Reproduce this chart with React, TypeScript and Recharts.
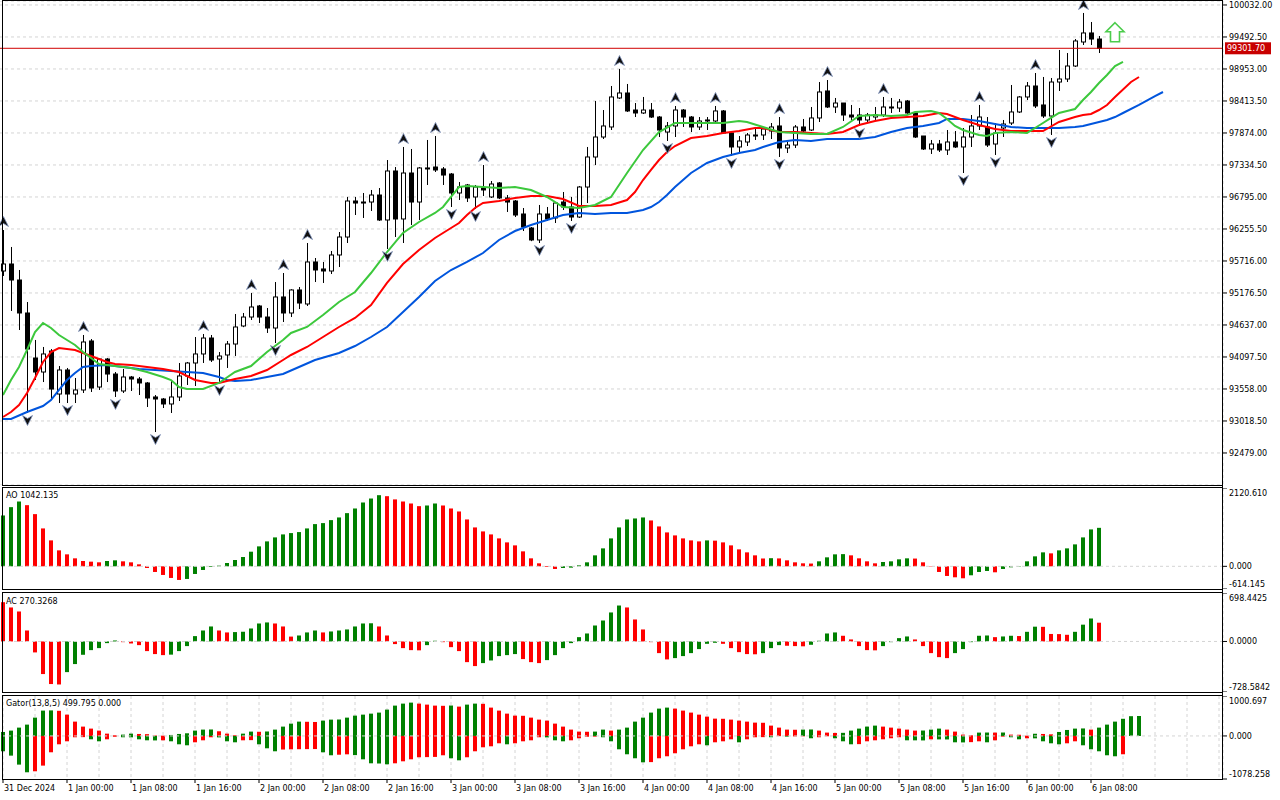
import React from 'react'
import { ComposedChart, Bar, Line, XAxis, YAxis, CartesianGrid, ReferenceLine } from 'recharts'

// H1 bars, slot 0 = 31 Dec 16:00, one slot per hour
const OPEN = [
  95547, 95665, 95395, 94839, 94080, 93844, 94198, 93473, 93878, 93473,
  93541, 94367, 93591, 94063, 93810, 93524, 93760, 93726, 93659, 93423,
  93389, 93305, 93423, 93777, 93996, 94148, 94417, 94063, 94131, 94316,
  94620, 94771, 94957, 94771, 94586, 95109, 94839, 95227, 94991, 95699,
  95581, 95547, 95817, 96120, 96727, 96710, 96710, 96828, 96407, 97233,
  96424, 97199, 96710, 97284, 97300, 97267, 97182, 96862, 96997, 96795,
  96946, 96795, 97031, 96778, 96727, 96508, 96272, 96070, 96508, 96441,
  96710, 96626, 96457, 96963, 97469, 97806, 97975, 98464, 98548, 98261,
  98211, 98261, 98143, 97890, 97992, 98261, 98143, 97975, 98093, 98076,
  98245, 97874, 97638, 97722, 97840, 97840, 97907, 97992, 97621, 97671,
  97975, 97924, 98127, 98582, 98312, 98379, 98177, 98177, 98093, 98143,
  98177, 98295, 98295, 98413, 98211, 97823, 97604, 97688, 97587, 97722,
  97638, 97806, 97992, 97975, 97688, 97958, 98042, 98228, 98481, 98666,
  98346, 98160, 98733, 98784, 99003, 99408, 99560, 99458,
]
const HIGH = [
  96238, 95952, 95564, 95024, 94384, 94266, 94232, 93945, 93912, 93743,
  94468, 94400, 94080, 94080, 93844, 93895, 93777, 93760, 93675, 93456,
  93406, 93692, 93996, 94013, 94434, 94485, 94468, 94181, 94367, 94822,
  94839, 95176, 94974, 94923, 95361, 95513, 95240, 95277, 96019, 95766,
  95699, 95884, 96204, 96795, 96795, 96862, 96913, 96946, 97418, 97300,
  97638, 97604, 97300, 97756, 97823, 97300, 97199, 97047, 97014, 96997,
  97334, 97064, 97047, 96828, 96744, 96609, 96289, 96660, 96626, 96710,
  96879, 96795, 96980, 97638, 98413, 98261, 98666, 98953, 98700, 98379,
  98481, 98379, 98160, 98059, 98329, 98278, 98160, 98143, 98143, 98329,
  98261, 97890, 97823, 97874, 97975, 97975, 98042, 98143, 97722, 98008,
  98110, 98312, 98733, 98767, 98464, 98379, 98346, 98295, 98211, 98312,
  98481, 98464, 98447, 98430, 98211, 97823, 97756, 97756, 97924, 97907,
  97958, 98177, 98346, 98143, 98042, 98093, 98683, 98497, 98733, 98885,
  98818, 98801, 99273, 99222, 99458, 99897, 99745, 99509,
]
const LOW = [
  95463, 94873, 94552, 93153, 93709, 93675, 93389, 93321, 93321, 93321,
  93490, 93507, 93541, 93675, 93423, 93490, 93524, 93456, 93254, 92832,
  93237, 93153, 93355, 93625, 93608, 93996, 94013, 93659, 93912, 94114,
  94600, 94721, 94670, 94502, 94333, 94687, 94771, 94906, 94957, 95361,
  95345, 95496, 95614, 96019, 96491, 96441, 96559, 96390, 95918, 96120,
  96019, 96322, 96407, 96997, 97216, 96997, 96626, 96744, 96710, 96592,
  96811, 96778, 96761, 96542, 96457, 96221, 96050, 96019, 96390, 96356,
  96575, 96390, 96441, 96693, 97334, 97772, 97924, 98447, 98228, 98143,
  98194, 98127, 97806, 97739, 97806, 97975, 97890, 97924, 97924, 98042,
  97857, 97486, 97553, 97654, 97756, 97756, 97772, 97469, 97536, 97621,
  97890, 97907, 98059, 98295, 98211, 98076, 98093, 97992, 98059, 98093,
  98143, 98211, 98228, 98194, 97790, 97587, 97520, 97553, 97503, 97621,
  97199, 97638, 97924, 97638, 97503, 97806, 98008, 98211, 98430, 98295,
  98127, 97840, 98582, 98733, 98986, 99357, 99357, 99222,
]
const CLOSE = [
  95665, 95395, 94839, 94232, 93844, 94148, 93557, 93878, 93473, 93541,
  94350, 93574, 94063, 93810, 93524, 93760, 93726, 93659, 93406, 93389,
  93305, 93423, 93777, 93996, 94148, 94417, 94046, 94114, 94316, 94603,
  94771, 94940, 94771, 94586, 95109, 94839, 95227, 95007, 95699, 95564,
  95547, 95817, 96120, 96727, 96693, 96693, 96828, 96407, 97233, 96424,
  97199, 96710, 97284, 97267, 97250, 97165, 96862, 96963, 96778, 96963,
  96913, 97014, 96778, 96710, 96491, 96289, 96070, 96508, 96424, 96693,
  96626, 96457, 96963, 97469, 97806, 97992, 98481, 98548, 98245, 98211,
  98261, 98143, 97924, 97992, 98261, 98143, 97975, 98076, 98076, 98245,
  97874, 97638, 97739, 97840, 97823, 97941, 97975, 97621, 97671, 97975,
  97907, 98127, 98565, 98312, 98379, 98177, 98143, 98093, 98177, 98177,
  98312, 98312, 98396, 98211, 97806, 97604, 97688, 97587, 97722, 97638,
  97806, 97992, 98143, 97671, 97874, 98025, 98228, 98481, 98666, 98329,
  98160, 98733, 98784, 99003, 99425, 99560, 99458, 99301.7,
]

// Alligator lines, [slot, price], already shifted forward
const JAW: [number, number][] = [
  [0, 93052], [1, 93052], [3, 93170], [5, 93271], [6, 93372], [7, 93541], [8, 93709], [9, 93827],
  [10, 93928], [11, 93945], [13, 93962], [15, 93928], [17, 93895], [19, 93878], [21, 93861],
  [23, 93844], [25, 93827], [27, 93760], [28, 93709], [29, 93692], [31, 93709], [33, 93760],
  [35, 93810], [37, 93928], [39, 94046], [42, 94164], [44, 94282], [46, 94434], [48, 94603],
  [50, 94856], [52, 95109], [54, 95378], [56, 95564], [58, 95699], [60, 95850], [62, 96070],
  [64, 96221], [66, 96322], [68, 96407], [70, 96491], [72, 96525], [74, 96508], [76, 96525],
  [78, 96525], [80, 96575], [81, 96626], [82, 96710], [83, 96828], [84, 96963], [86, 97199],
  [88, 97368], [90, 97469], [92, 97536], [94, 97587], [95, 97638], [97, 97722], [99, 97756],
  [101, 97739], [103, 97772], [105, 97772], [107, 97772], [109, 97806], [111, 97890],
  [113, 97958], [115, 97992], [117, 98042], [118, 98110], [120, 98110], [122, 98076],
  [124, 98025], [126, 97975], [128, 97958], [130, 97958], [132, 97958], [134, 97975],
  [135, 97992], [136, 98025], [137, 98059], [138, 98093], [139, 98143], [140, 98211],
  [142, 98346], [144, 98497], [145, 98565],
]
const TEETH: [number, number][] = [
  [0, 93085], [1, 93170], [2, 93288], [3, 93490], [4, 93743], [5, 94013], [6, 94181], [7, 94249],
  [9, 94215], [11, 94114], [13, 94013], [14, 93979], [16, 93962], [18, 93928], [20, 93895],
  [22, 93844], [24, 93709], [26, 93659], [27, 93659], [29, 93726], [31, 93777], [33, 93878],
  [35, 94046], [36, 94131], [38, 94266], [40, 94434], [42, 94603], [44, 94755], [46, 94974],
  [48, 95345], [50, 95665], [52, 95901], [54, 96103], [56, 96272], [57, 96356], [58, 96491],
  [59, 96609], [60, 96693], [62, 96727], [64, 96778], [66, 96811], [68, 96811], [70, 96761],
  [72, 96643], [74, 96643], [76, 96660], [78, 96744], [79, 96879], [80, 97081], [81, 97250],
  [82, 97418], [83, 97553], [84, 97654], [86, 97789], [88, 97823], [90, 97874], [92, 97907],
  [94, 97958], [95, 97958], [97, 97890], [99, 97890], [101, 97874], [103, 97857], [105, 97890],
  [107, 98008], [109, 98076], [111, 98127], [113, 98143], [115, 98160], [117, 98211],
  [118, 98194], [120, 98093], [122, 98008], [124, 97941], [126, 97907], [128, 97907],
  [130, 97907], [132, 98059], [134, 98143], [135, 98177], [136, 98194], [137, 98261],
  [138, 98346], [139, 98481], [141, 98733], [142, 98818],
]
const LIPS: [number, number][] = [
  [0, 93456], [1, 93709], [2, 93928], [3, 94215], [4, 94518], [5, 94670], [6, 94586], [7, 94468],
  [8, 94384], [9, 94299], [10, 94181], [11, 94080], [12, 93979], [14, 93945], [16, 93912],
  [18, 93844], [20, 93760], [21, 93709], [22, 93591], [23, 93557], [25, 93557], [27, 93659],
  [29, 93844], [31, 93945], [33, 94181], [35, 94384], [36, 94502], [38, 94603], [40, 94805],
  [42, 95024], [44, 95193], [46, 95513], [48, 95867], [50, 96188], [52, 96373], [54, 96525],
  [55, 96626], [56, 96795], [57, 96963], [58, 96980], [60, 96963], [62, 96946], [64, 96963],
  [66, 96913], [68, 96795], [70, 96626], [72, 96609], [74, 96660], [76, 96795], [78, 97199],
  [80, 97587], [82, 97890], [84, 98042], [86, 98042], [88, 98042], [90, 98042], [92, 98076],
  [93, 98059], [95, 97975], [97, 97890], [99, 97874], [101, 97857], [103, 97857], [105, 97975],
  [107, 98160], [109, 98177], [111, 98160], [113, 98177], [114, 98228], [116, 98245],
  [117, 98211], [118, 98110], [119, 97992], [120, 97924], [122, 97840], [123, 97823],
  [124, 97874], [126, 97890], [128, 97874], [129, 97958], [130, 98042], [131, 98127],
  [132, 98211], [133, 98245], [134, 98278], [135, 98430], [136, 98565], [137, 98717],
  [138, 98851], [139, 99003], [140, 99071],
]

const FRACTAL_UP = [0, 10, 25, 31, 35, 38, 50, 54, 60, 77, 84, 89, 97, 103, 110, 122, 129, 135]
const FRACTAL_DOWN = [3, 8, 14, 19, 27, 34, 48, 56, 59, 67, 71, 83, 91, 97, 107, 120, 124, 131]

const AO = [
  1377, 1602, 1755, 1656, 1413, 1026, 702, 432, 324, 216,
  144, 126, 108, 144, 162, 135, 108, 54, -45, -153,
  -234, -315, -369, -342, -207, -99, -18, 18, 90, 171,
  252, 396, 540, 675, 783, 864, 900, 927, 1026, 1143,
  1170, 1251, 1323, 1440, 1566, 1728, 1836, 1926, 1899, 1812,
  1755, 1701, 1629, 1647, 1701, 1647, 1566, 1485, 1269, 1053,
  945, 864, 756, 648, 567, 405, 216, 81, -18, -72,
  -45, -36, 27, 108, 297, 486, 756, 1053, 1269, 1296,
  1323, 1242, 1080, 918, 837, 756, 702, 675, 702, 695,
  648, 567, 459, 378, 297, 212, 220, 214, 162, 108,
  81, 75, 135, 243, 324, 330, 297, 216, 135, 81,
  117, 135, 189, 216, 210, 108, -9, -153, -261, -297,
  -324, -243, -153, -126, -162, -72, -27, -9, 135, 270,
  378, 351, 432, 486, 594, 783, 999, 1042.135,
]
const AC = [
  566, 490, 432, 158, -158, -470, -614, -620, -442, -326,
  -192, -125, -96, -24, 14, -10, -29, -53, -139, -182,
  -197, -190, -139, -67, 77, 158, 216, 158, 130, 135,
  140, 187, 259, 274, 259, 216, 70, 86, 130, 158,
  130, 144, 158, 173, 216, 259, 262, 216, 86, -38,
  -96, -125, -128, -53, 10, -10, -82, -139, -298, -355,
  -312, -274, -211, -197, -182, -254, -298, -312, -269, -197,
  -96, -24, 62, 115, 230, 302, 418, 518, 490, 317,
  173, -10, -168, -259, -240, -211, -168, -110, -34, -19,
  -34, -96, -154, -182, -185, -168, -96, -53, -62, -67,
  -70, -48, 10, 115, 130, 82, 29, -67, -125, -128,
  -67, -10, 48, 72, 29, -67, -168, -226, -240, -168,
  -110, -10, 82, 86, 62, 72, 82, 78, 139, 213,
  211, 108, 106, 96, 139, 242, 331, 270.3268,
]
const GATOR_UP = [
  100, 134, 209, 284, 459, 635, 640, 630, 534, 359,
  234, 184, 134, 58, 17, 33, 58, 50, 45, 12,
  8, 25, 50, 67, 134, 159, 162, 117, 58, 17,
  58, 109, 105, 112, 159, 234, 309, 359, 355, 350,
  384, 409, 412, 459, 509, 534, 559, 585, 660, 760,
  810, 835, 810, 785, 760, 755, 762, 735, 785, 810,
  805, 710, 635, 559, 509, 505, 459, 409, 384, 309,
  234, 159, 109, 105, 109, 159, 134, 159, 209, 359,
  459, 585, 685, 710, 685, 635, 585, 534, 484, 434,
  430, 409, 384, 359, 334, 330, 259, 209, 159, 155,
  159, 162, 134, 84, 75, 78, 134, 184, 234, 259,
  234, 209, 184, 159, 134, 136, 159, 184, 159, 109,
  33, 17, 84, 86, 84, 86, 33, 30, 8, 55,
  50, 40, 100, 150, 184, 188, 159, 209, 284, 359,
  430, 495, 499.795,
]
const GATOR_DOWN = [
  -384, -493, -718, -910, -885, -743, -409, -209, -134, -33,
  -30, -84, -134, -84, -20, -33, -35, -84, -109, -112,
  -109, -134, -209, -234, -159, -109, -33, -36, -134, -159,
  -109, -105, -209, -309, -384, -340, -335, -332, -330, -328,
  -409, -484, -470, -460, -480, -585, -685, -690, -710, -685,
  -635, -585, -534, -530, -525, -484, -559, -610, -534, -384,
  -284, -259, -184, -209, -184, -134, -109, -33, -36, -109,
  -134, -109, -58, -20, -17, -33, -134, -334, -459, -559,
  -660, -655, -559, -509, -434, -334, -259, -209, -234, -159,
  -134, -84, -159, -84, -33, -30, -33, -5, -17, -12,
  -10, -58, -33, -8, -58, -134, -209, -205, -134, -109,
  -84, -58, -33, -109, -110, -112, -84, -86, -88, -159,
  -162, -155, -134, -159, -109, -17, -33, -84, -58, -60,
  -134, -184, -209, -184, -134, -234, -334, -384, -484, -509,
  -459,
]

const PRICE_TICKS = [
  92479, 93018.5, 93558, 94097.5, 94637, 95176.5, 95716, 96255.5,
  96795, 97334.5, 97874, 98413.5, 98953, 99492.5, 100032,
]
const TIME_LABELS = [
  '31 Dec 2024', '1 Jan 00:00', '1 Jan 08:00', '1 Jan 16:00', '2 Jan 00:00', '2 Jan 08:00',
  '2 Jan 16:00', '3 Jan 00:00', '3 Jan 08:00', '3 Jan 16:00', '4 Jan 00:00', '4 Jan 08:00',
  '4 Jan 16:00', '5 Jan 00:00', '5 Jan 08:00', '5 Jan 16:00', '6 Jan 00:00', '6 Jan 08:00',
]
const BID = 99301.7
const SIGNAL = { k: 139, price: 99733 }

const PRICE_DOMAIN: [number, number] = [91939, 100099]
const AO_RANGE: [number, number] = [-614.145, 2120.61]
const AC_RANGE: [number, number] = [-728.5842, 698.4425]
const GATOR_RANGE: [number, number] = [-1078.258, 1000.697]

const SLOTS = 153
const GRID_TICKS = Array.from({ length: 39 }, (_, i) => i * 4)

const UP = '#008000'
const DOWN = '#ff0000'
const GRID = '#d4d4d4'
const FONT = 'DejaVu Sans'
const W = 1284
const AXIS_W = 60
const ZERO = { top: 0, right: 0, bottom: 0, left: 0 }

function trend(values: number[], firstUp: boolean, byMagnitude = false) {
  const out: string[] = []
  let up = firstUp
  values.forEach((v, i) => {
    if (i > 0) {
      const a = byMagnitude ? Math.abs(v) : v
      const b = byMagnitude ? Math.abs(values[i - 1]) : values[i - 1]
      if (a > b) up = true
      else if (a < b) up = false
    }
    out.push(up ? UP : DOWN)
  })
  return out
}

const AO_COLORS = trend(AO, true)
const AC_COLORS = trend(AC, false)
const GU_COLORS = trend(GATOR_UP, true, true)
const GD_COLORS = trend(GATOR_DOWN, true, true)

const jawMap = new Map(JAW)
const teethMap = new Map(TEETH)
const lipsMap = new Map(LIPS)

const rows = Array.from({ length: SLOTS }, (_, k) => {
  const has = k < OPEN.length
  return {
    k,
    open: has ? OPEN[k] : null,
    high: has ? HIGH[k] : null,
    low: has ? LOW[k] : null,
    close: has ? CLOSE[k] : null,
    candle: has ? [LOW[k], HIGH[k]] : null,
    jaw: jawMap.get(k) ?? null,
    teeth: teethMap.get(k) ?? null,
    lips: lipsMap.get(k) ?? null,
    fu: FRACTAL_UP.includes(k) ? HIGH[k] : null,
    fd: FRACTAL_DOWN.includes(k) ? LOW[k] : null,
    sig: k === SIGNAL.k ? SIGNAL.price : null,
    ao: k < AO.length ? AO[k] : null,
    ac: k < AC.length ? AC[k] : null,
    gu: k < GATOR_UP.length ? GATOR_UP[k] : 0,
    gd: k < GATOR_DOWN.length ? GATOR_DOWN[k] : 0,
  }
})

function Candle(p: any) {
  const d = p.payload
  if (!d || d.open == null || !p.height) return <g />
  const { open, close, high, low } = d
  const py = (v: number) => p.y + ((high - v) / (high - low)) * p.height
  const cx = p.x + p.width / 2
  const top = py(Math.max(open, close))
  const bot = py(Math.min(open, close))
  return (
    <g>
      <line x1={cx} x2={cx} y1={p.y} y2={p.y + p.height} stroke="#000" strokeWidth={1} />
      <rect x={cx - 2} y={top} width={4} height={Math.max(bot - top, 0)} fill={close < open ? '#000' : '#fff'} stroke="#000" strokeWidth={1} />
    </g>
  )
}

const histShape = (colors: string[]) => (p: any) => {
  const c = colors[p.payload?.k]
  if (!c || !p.height) return <g />
  const top = Math.min(p.y, p.y + p.height)
  return <rect x={Math.round(p.x)} y={top} width={p.width} height={Math.abs(p.height)} fill={c} />
}

const fractalDot = (dir: 'up' | 'down') => (p: any) => {
  if (p.value == null || p.cx == null || p.cy == null) return <g key={p.index} />
  const y0 = dir === 'up' ? p.cy - 8 : p.cy + 7
  const d = dir === 'up' ? 'M0,-5.5 L5,4.5 L0,1.5 L-5,4.5 Z' : 'M0,5.5 L5,-4.5 L0,-1.5 L-5,-4.5 Z'
  return (
    <path key={p.index} d={d} transform={`translate(${p.cx + 0.5},${y0})`} fill="#111" stroke="#8194bc" strokeWidth={0.8} />
  )
}

function SignalArrow(p: any) {
  if (p.value == null || p.cx == null || p.cy == null) return <g key={p.index} />
  const { cx, cy } = p
  const d = `M${cx},${cy} l9,9 h-4.5 v10 h-9 v-10 h-4.5 z`
  return <path key={p.index} d={d} fill="#fff" stroke="#4ccc4c" strokeWidth={1.6} strokeLinejoin="miter" />
}

function BidTag(p: any) {
  const vb = p.viewBox
  if (!vb) return null
  const x = vb.x + vb.width + 2
  const y = vb.y
  return (
    <g>
      <rect x={x} y={y - 6} width={46} height={12} fill="#c80000" />
      <text x={x + 2} y={y} dy="0.35em" fill="#fff" fontSize={8} fontFamily={FONT}>
        {BID.toFixed(2)}
      </text>
    </g>
  )
}

const paneTick = (range: [number, number], digits: number) => (p: any) => {
  const v = p.payload.value
  const dy = v === range[1] ? 5 : v === range[0] ? -4.5 : 0
  return (
    <text x={p.x} y={p.y + dy} dy="0.35em" fontSize={8} fontFamily={FONT} fill="#000" textAnchor="start">
      {v.toFixed(digits)}
    </text>
  )
}

function TimeTick(p: any) {
  const k = p.payload.value
  const label = k % 8 === 0 ? TIME_LABELS[k / 8] : undefined
  if (!label) return <g />
  return (
    <g>
      <line x1={p.x} x2={p.x} y1={p.y} y2={p.y + 4} stroke="#000" />
      <text x={p.x + 1} y={p.y + 9} dy="0.35em" fontSize={8} fontFamily={FONT} fill="#000" textAnchor="start">
        {label}
      </text>
    </g>
  )
}

function Frame({ top, height }: { top: number; height: number }) {
  return (
    <div
      style={{
        position: 'absolute', left: 2, top, width: 1221, height,
        border: '1px solid #000', boxSizing: 'border-box', pointerEvents: 'none',
      }}
    />
  )
}

const paneLabel: React.CSSProperties = {
  position: 'absolute', left: 6, fontSize: 8, lineHeight: '10px', fontFamily: FONT, color: '#000',
  whiteSpace: 'nowrap',
}

function SubPane({ top, height, range, digits, children, xHeight = 0, stack = false }: any) {
  return (
    <div style={{ position: 'absolute', left: -1.5, top }}>
      <ComposedChart width={W} height={height + xHeight} data={rows} margin={ZERO} stackOffset={stack ? 'sign' : undefined}>
        <CartesianGrid stroke={GRID} strokeDasharray="3 3" horizontal={false} />
        {xHeight ? (
          <XAxis dataKey="k" type="category" ticks={GRID_TICKS} interval={0} height={xHeight} tickSize={0} tickMargin={0} axisLine={false} tickLine={false} tick={TimeTick} />
        ) : (
          <XAxis dataKey="k" type="category" ticks={GRID_TICKS} interval={0} height={0} tick={false} tickLine={false} axisLine={false} />
        )}
        <YAxis
          orientation="right" type="number" width={AXIS_W} domain={range} ticks={[range[0], 0, range[1]]}
          interval={0} allowDataOverflow axisLine={false} tickSize={4} tickLine={{ stroke: '#000' }}
          tick={paneTick(range, digits)}
        />
        <ReferenceLine y={0} stroke={GRID} strokeDasharray="3 3" />
        {children}
      </ComposedChart>
    </div>
  )
}

export default function App() {
  return (
    <div style={{ position: 'fixed', left: 0, top: 0, width: 1280, height: 800, background: '#fff', overflow: 'hidden' }}>
      <div style={{ position: 'absolute', left: -1.5, top: 1 }}>
        <ComposedChart width={W} height={484} data={rows} margin={ZERO}>
          <CartesianGrid stroke={GRID} strokeDasharray="3 3" />
          <XAxis dataKey="k" type="category" ticks={GRID_TICKS} interval={0} height={0} tick={false} tickLine={false} axisLine={false} />
          <YAxis
            orientation="right" type="number" width={AXIS_W} domain={PRICE_DOMAIN} ticks={PRICE_TICKS}
            interval={0} allowDataOverflow axisLine={false} tickSize={4} tickLine={{ stroke: '#000' }}
            tick={{ fontSize: 8, fontFamily: FONT, fill: '#000' }}
            tickFormatter={(v: number) => v.toFixed(2)}
          />
          <Bar dataKey="candle" barSize={5} shape={Candle} isAnimationActive={false} />
          <Line dataKey="jaw" stroke="#0055dd" strokeWidth={2} dot={false} activeDot={false} connectNulls isAnimationActive={false} />
          <Line dataKey="teeth" stroke="#ff0000" strokeWidth={2} dot={false} activeDot={false} connectNulls isAnimationActive={false} />
          <Line dataKey="lips" stroke="#3cc83c" strokeWidth={2} dot={false} activeDot={false} connectNulls isAnimationActive={false} />
          <Line dataKey="fu" stroke="none" dot={fractalDot('up')} activeDot={false} isAnimationActive={false} />
          <Line dataKey="fd" stroke="none" dot={fractalDot('down')} activeDot={false} isAnimationActive={false} />
          <Line dataKey="sig" stroke="none" dot={SignalArrow} activeDot={false} isAnimationActive={false} />
          <ReferenceLine y={BID} stroke="#d00000" label={(p: any) => <BidTag {...p} />} />
        </ComposedChart>
      </div>

      <SubPane top={488} height={101} range={AO_RANGE} digits={3}>
        <Bar dataKey="ao" barSize={4} shape={histShape(AO_COLORS)} isAnimationActive={false} />
      </SubPane>
      <SubPane top={593} height={99} range={AC_RANGE} digits={4}>
        <Bar dataKey="ac" barSize={4} shape={histShape(AC_COLORS)} isAnimationActive={false} />
      </SubPane>
      <SubPane top={696} height={83} range={GATOR_RANGE} digits={3} xHeight={20} stack>
        <Bar dataKey="gu" stackId="g" barSize={4} shape={histShape(GU_COLORS)} isAnimationActive={false} />
        <Bar dataKey="gd" stackId="g" barSize={4} shape={histShape(GD_COLORS)} isAnimationActive={false} />
      </SubPane>

      <Frame top={0} height={486} />
      <Frame top={487} height={103} />
      <Frame top={592} height={101} />
      <Frame top={695} height={85} />
      <div style={{ position: 'absolute', left: 1222, top: 0, width: 1, height: 780, background: '#000' }} />

      <div style={{ ...paneLabel, top: 491 }}>AO {AO[AO.length - 1].toFixed(3)}</div>
      <div style={{ ...paneLabel, top: 597 }}>AC {AC[AC.length - 1].toFixed(4)}</div>
      <div style={{ ...paneLabel, top: 699 }}>
        Gator(13,8,5) {GATOR_UP[GATOR_UP.length - 1].toFixed(3)} {(0).toFixed(3)}
      </div>
    </div>
  )
}
